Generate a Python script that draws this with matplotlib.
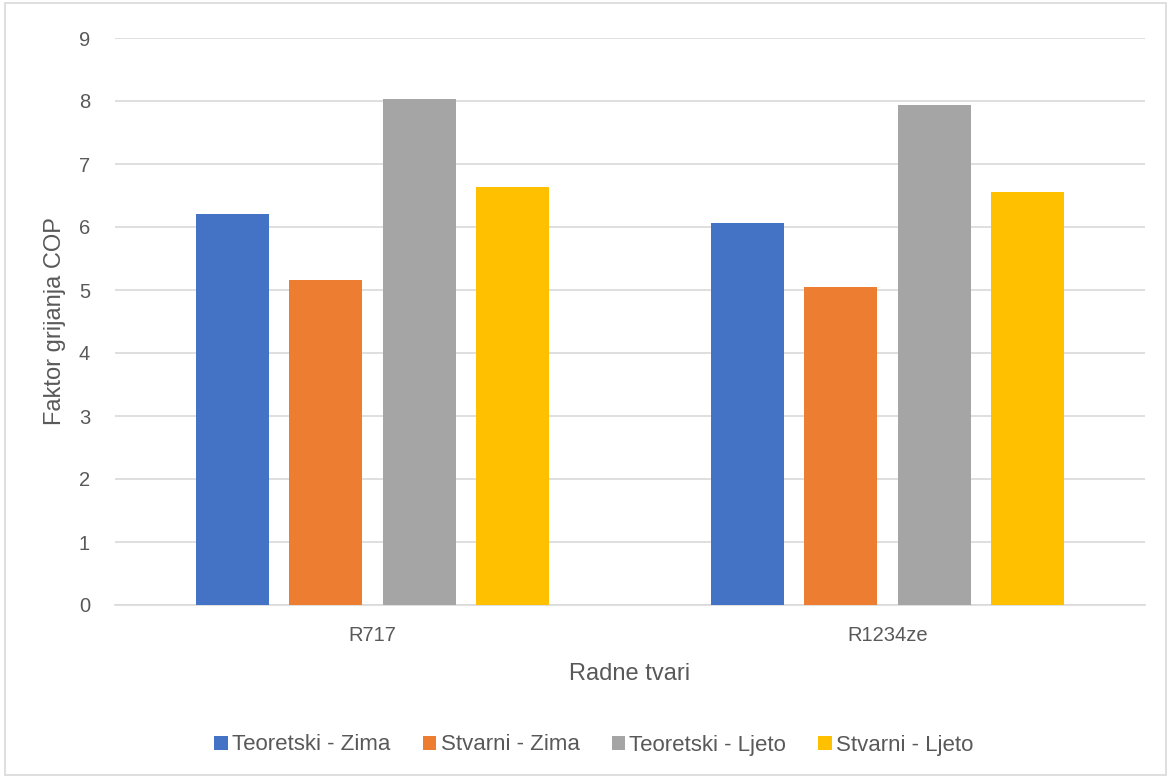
import numpy as np
import matplotlib.pyplot as plt
from matplotlib.patches import Rectangle

categories = ['R717', 'R1234ze']
series_names = ['Teoretski - Zima', 'Stvarni - Zima', 'Teoretski - Ljeto', 'Stvarni - Ljeto']
teoretski_zima = [6.20, 6.07]
stvarni_zima = [5.16, 5.05]
teoretski_ljeto = [8.03, 7.94]
stvarni_ljeto = [6.63, 6.55]
colors = ['#4472C4', '#ED7D31', '#A5A5A5', '#FFC000']

plt.rcParams['font.family'] = ['Liberation Sans', 'DejaVu Sans']
text_color = '#595959'

fig = plt.figure(figsize=(11.71, 7.78), dpi=100)
ax = fig.add_axes([115 / 1171, 1 - 605 / 778, 1030 / 1171, 567 / 778])

x = np.arange(len(categories))
step = 0.181
width = 0.142
all_series = [teoretski_zima, stvarni_zima, teoretski_ljeto, stvarni_ljeto]
for i, (vals, name, c) in enumerate(zip(all_series, series_names, colors)):
    ax.bar(x + (i - 1.5) * step, vals, width, color=c, label=name, zorder=3)

ax.set_xlim(-0.5, 1.5)
ax.set_ylim(0, 9)
ax.set_yticks(range(0, 10))
ax.set_xticks(x)
ax.set_xticklabels(categories)
ax.yaxis.grid(True, color='#D9D9D9', linewidth=1.2, zorder=0)
for s in ['top', 'right', 'left']:
    ax.spines[s].set_visible(False)
ax.spines['bottom'].set_color('#D9D9D9')
ax.spines['bottom'].set_linewidth(1.2)
ax.tick_params(axis='both', length=0, colors=text_color, labelsize=14.5)
ax.tick_params(axis='x', pad=15)
ax.tick_params(axis='y', pad=18)

ax.set_xlabel('Radne tvari', fontsize=17, color=text_color, labelpad=13)
ax.set_ylabel('Faktor grijanja COP', fontsize=17, color=text_color, labelpad=9)

fig.legend(loc='center', bbox_to_anchor=(594 / 1171, 1 - 745 / 778), ncol=4, frameon=False,
           fontsize=16, handlelength=0.6, handleheight=0.6, handletextpad=0.2,
           columnspacing=1.45, labelcolor=text_color)

fig.patches.append(Rectangle((0.004, 0.004), 0.992, 0.992, transform=fig.transFigure,
                             fill=False, edgecolor='#D9D9D9', linewidth=1.2))

fig.savefig('out.png', dpi=100)
